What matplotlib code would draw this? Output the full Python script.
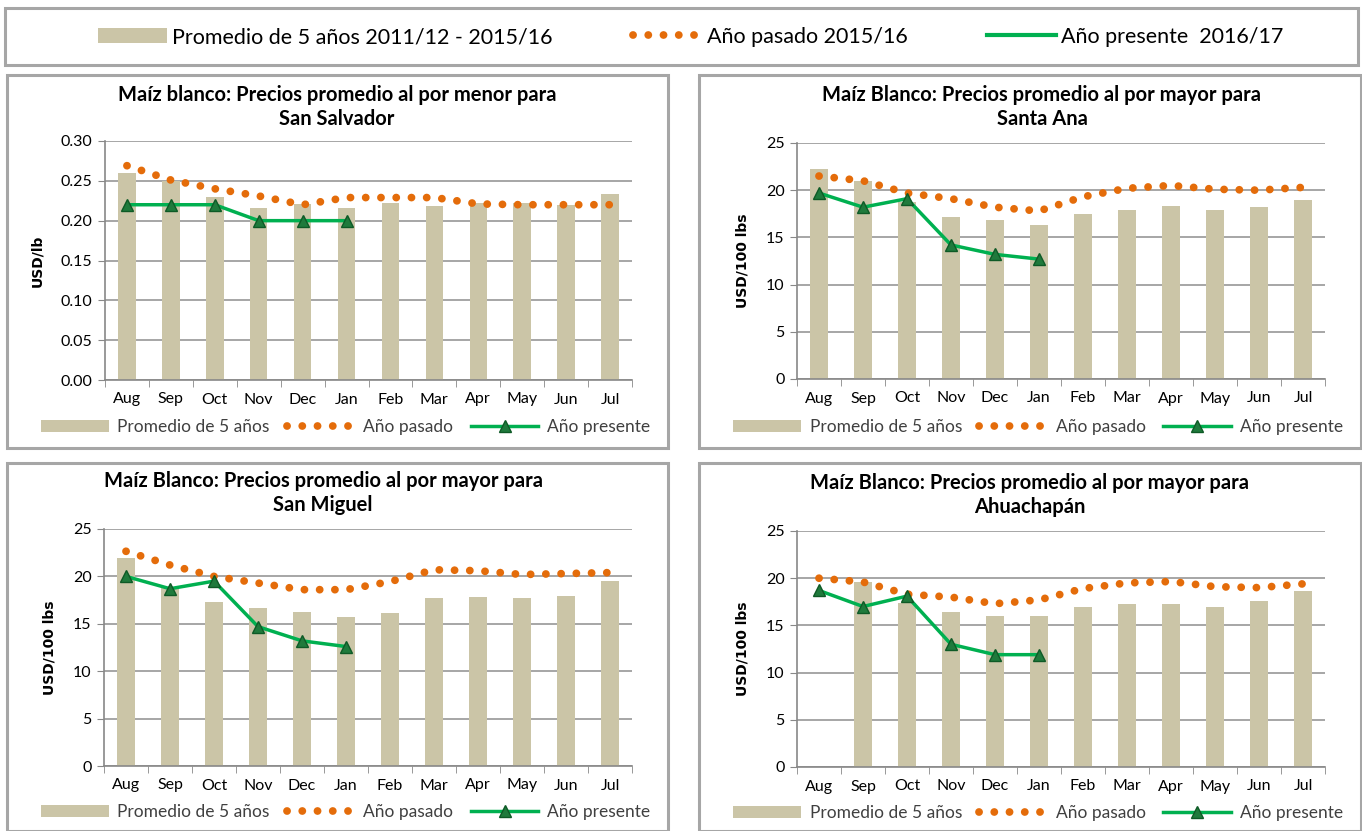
import numpy as np
import matplotlib
matplotlib.use('Agg')
import matplotlib.pyplot as plt
from matplotlib.patches import Rectangle, Patch
from matplotlib.lines import Line2D

plt.rcParams['font.family'] = ['Lato', 'DejaVu Sans']

months = ['Aug', 'Sep', 'Oct', 'Nov', 'Dec', 'Jan', 'Feb', 'Mar', 'Apr', 'May', 'Jun', 'Jul']

# San Salvador (menor, USD/lb)
ss_prom = [0.260, 0.250, 0.230, 0.216, 0.221, 0.216, 0.222, 0.218, 0.222, 0.222, 0.220, 0.233]
ss_pasado = [0.269, 0.251, 0.240, 0.231, 0.220, 0.229, 0.229, 0.229, 0.221, 0.220, 0.220, 0.220]
ss_presente = [0.22, 0.22, 0.22, 0.20, 0.20, 0.20]

# Santa Ana (mayor, USD/100 lbs)
sa_prom = [22.2, 21.0, 18.8, 17.2, 16.8, 16.3, 17.5, 17.9, 18.3, 17.9, 18.2, 19.0]
sa_pasado = [21.5, 21.0, 19.7, 19.1, 18.2, 17.8, 19.3, 20.2, 20.5, 20.1, 20.0, 20.3]
sa_presente = [19.7, 18.2, 19.1, 14.2, 13.2, 12.7]

# San Miguel
sm_prom = [21.95, 18.8, 17.3, 16.7, 16.2, 15.7, 16.1, 17.7, 17.8, 17.7, 17.9, 19.5]
sm_pasado = [22.65, 21.2, 20.0, 19.3, 18.6, 18.6, 19.45, 20.7, 20.6, 20.2, 20.3, 20.4]
sm_presente = [20.0, 18.7, 19.5, 14.7, 13.2, 12.6]

# Ahuachapan
ah_prom = [np.nan, 19.65, 17.4, 16.4, 16.0, 16.0, 16.9, 17.3, 17.3, 17.0, 17.6, 18.6]
ah_pasado = [20.0, 19.6, 18.3, 18.0, 17.3, 17.7, 18.9, 19.5, 19.65, 19.1, 19.0, 19.4]
ah_presente = [18.7, 17.0, 18.1, 13.0, 11.9, 11.9]

BAR = '#CBC5A7'
ORANGE = '#E46C0A'
GREEN = '#00B050'
TRI = '#1F7A3C'
GRID = '#A6A6A6'
DOT_LW = 5.6
DOTS = (0, (0.01, 1.95))
W, H = 1362, 831

fig = plt.figure(figsize=(W / 100, H / 100), dpi=100)


def box(x0, y0, x1, y1):
    fig.patches.append(Rectangle((x0 / W, 1 - y1 / H), (x1 - x0) / W, (y1 - y0) / H,
                                 transform=fig.transFigure, fill=False,
                                 edgecolor='#A6A6A6', linewidth=2.2))


def handles():
    h1 = Patch(facecolor=BAR, edgecolor='none')
    h2 = Line2D([], [], color=ORANGE, lw=DOT_LW, linestyle=DOTS, dash_capstyle='round')
    h3 = Line2D([], [], color=GREEN, lw=2.5, marker='^', markersize=8,
                markerfacecolor=TRI, markeredgecolor='#0E5A26')
    return h1, h2, h3


def panel(px, title, ylab, prom, pasado, presente, ymax, ystep, fmt, box_xy, title_y, leg_y):
    l, r, t, b = px
    ax = fig.add_axes([l / W, 1 - b / H, (r - l) / W, (b - t) / H])
    x = np.arange(len(months))
    ax.bar(x, prom, width=0.4, color=BAR, zorder=2)
    ax.plot(x, pasado, color=ORANGE, lw=DOT_LW, linestyle=DOTS,
            dash_capstyle='round', zorder=3)
    ax.plot(x[:len(presente)], presente, color=GREEN, lw=2.5, marker='^', markersize=9,
            markerfacecolor=TRI, markeredgecolor='#0E5A26', zorder=4)
    ax.set_xlim(-0.5, 11.5)
    ax.set_ylim(0, ymax)
    ax.set_yticks(np.arange(0, ymax + ystep / 2, ystep))
    ax.yaxis.set_major_formatter(matplotlib.ticker.FormatStrFormatter(fmt))
    ax.set_xticks(x)
    ax.set_xticklabels(months)
    ax.set_xticks(np.arange(-0.5, 12, 1), minor=True)
    ax.tick_params(axis='x', which='major', length=0, pad=9, labelsize=11.5)
    ax.tick_params(axis='x', which='minor', length=5, color='#888888', direction='out')
    ax.tick_params(axis='y', length=5, color='#888888', labelsize=11.5, pad=4)
    ax.grid(axis='y', color=GRID, lw=1.4, zorder=0)
    ax.set_axisbelow(True)
    for s in ['top', 'right']:
        ax.spines[s].set_visible(False)
    for s in ['left', 'bottom']:
        ax.spines[s].set_color('#888888')
        ax.spines[s].set_linewidth(1.2)
    ax.set_ylabel(ylab, fontsize=10, fontweight='bold', family='DejaVu Sans', labelpad=12)
    bx0, by0, bx1, by1 = box_xy
    box(bx0, by0, bx1, by1)
    fig.text(title[2] / W, 1 - title_y / H, title[0] + '\n' + title[1], ha='center', va='center',
             fontsize=14.5, fontweight='bold', linespacing=1.3)
    leg = fig.legend(handles(), ['Promedio de 5 años', 'Año pasado', 'Año presente'],
                     loc='center', bbox_to_anchor=(((bx0 + bx1) / 2 + 8) / W, 1 - leg_y / H),
                     ncol=3, frameon=False, fontsize=12.5, handlelength=3.9, numpoints=1,
                     columnspacing=1.0, handletextpad=0.5)
    for txt in leg.get_texts():
        txt.set_color('#404040')
    return ax


panel((105, 632, 141, 380), ('Maíz blanco: Precios promedio al por menor para', 'San Salvador', 337),
      'USD/lb', ss_prom, ss_pasado, ss_presente, 0.30, 0.05, '%.2f', (7, 75, 668, 448), 107, 427)
panel((797, 1325, 143, 379), ('Maíz Blanco: Precios promedio al por mayor para', 'Santa Ana', 1042),
      'USD/100 lbs', sa_prom, sa_pasado, sa_presente, 25, 5, '%d', (699, 75, 1361, 448), 107, 427)
panel((104, 632, 529, 766), ('Maíz Blanco: Precios promedio al por mayor para', 'San Miguel', 323),
      'USD/100 lbs', sm_prom, sm_pasado, sm_presente, 25, 5, '%d', (7, 463, 668, 831), 493, 812)
panel((797, 1325, 531, 767), ('Maíz Blanco: Precios promedio al por mayor para', 'Ahuachapán', 1030),
      'USD/100 lbs', ah_prom, ah_pasado, ah_presente, 25, 5, '%d', (699, 463, 1361, 831), 495, 813)

# top legend
box(5, 8, 1358, 65)
h1, h2, h3 = handles()
h3 = Line2D([], [], color=GREEN, lw=3)
top = fig.legend([h1, h2, h3], ['Promedio de 5 años 2011/12 - 2015/16', 'Año pasado 2015/16',
                                'Año presente  2016/17'],
                 loc='center', bbox_to_anchor=(691 / W, 1 - 37 / H), ncol=3, frameon=False,
                 fontsize=15.5, handlelength=3.2, columnspacing=3.7, handletextpad=0.25)

fig.savefig('out.png', dpi=100)
